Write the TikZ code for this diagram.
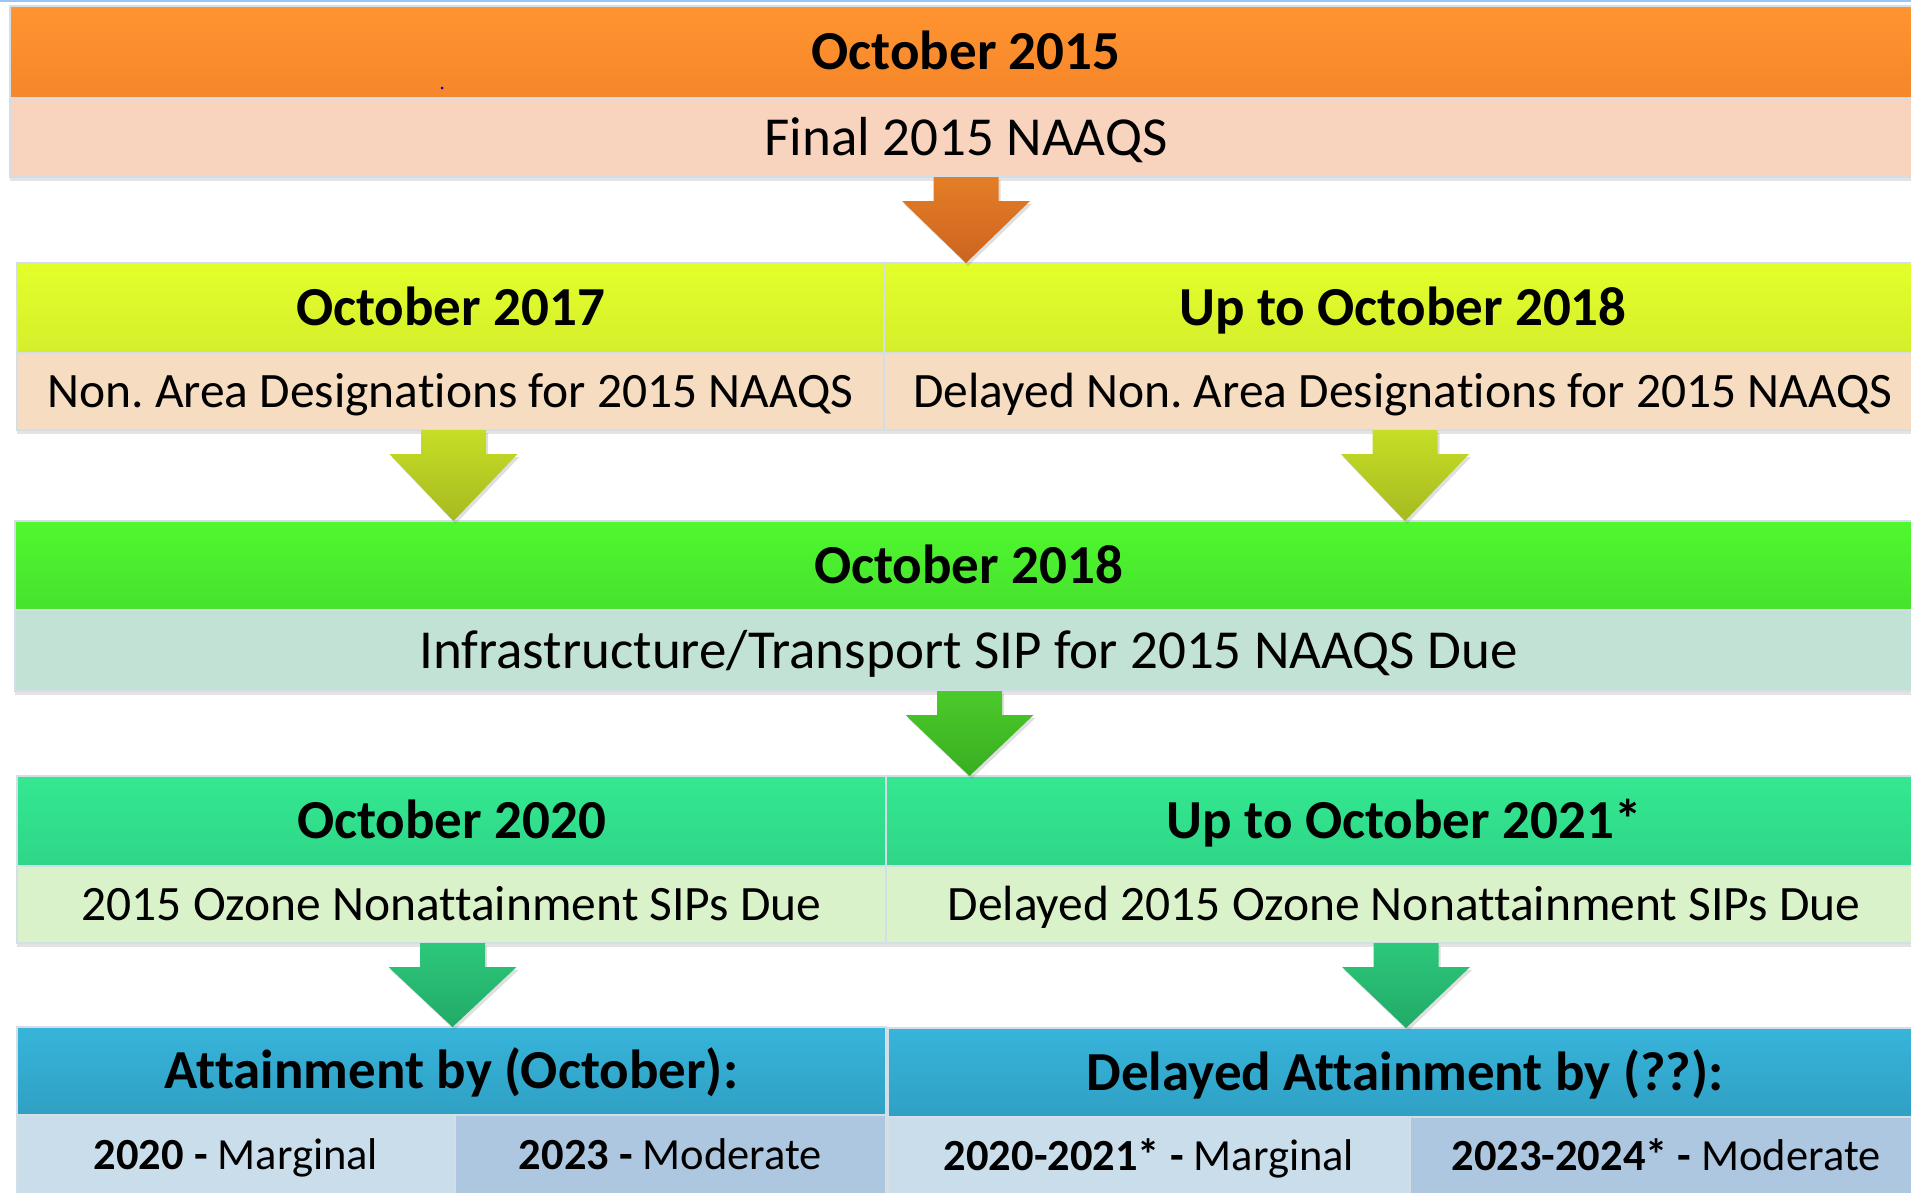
\documentclass[tikz,border=0pt]{standalone}
\usepackage{fontspec}
\setmainfont[Ligatures=NoCommon]{Carlito}
\usetikzlibrary{shadows,calc}
\definecolor{orangeT}{HTML}{FF9430}
\definecolor{orangeB}{HTML}{F6862A}
\definecolor{peachA}{HTML}{F8D4BF}
\definecolor{yellowT}{HTML}{E3FF2A}
\definecolor{yellowB}{HTML}{D5EE2C}
\definecolor{peachB}{HTML}{F6DCC0}
\definecolor{greenT}{HTML}{50F82E}
\definecolor{greenB}{HTML}{46E22E}
\definecolor{greenS}{HTML}{C3E2D6}
\definecolor{tealT}{HTML}{34E890}
\definecolor{tealB}{HTML}{2ED688}
\definecolor{tealS}{HTML}{DAF2CA}
\definecolor{blueT}{HTML}{38B4DA}
\definecolor{blueB}{HTML}{2FA0C4}
\definecolor{blueS}{HTML}{C9DDEB}
\definecolor{blueS2}{HTML}{ADC7E0}
\definecolor{cellline}{HTML}{D3DEE6}
\definecolor{arOT}{HTML}{E47E26}
\definecolor{arOB}{HTML}{CC6420}
\definecolor{arYT}{HTML}{C6DE26}
\definecolor{arYB}{HTML}{A6BA20}
\definecolor{arGT}{HTML}{4CCA2A}
\definecolor{arGB}{HTML}{38AE22}
\definecolor{arTT}{HTML}{2CC87A}
\definecolor{arTB}{HTML}{22AA68}
\definecolor{topline}{HTML}{9DC3F5}
\newcommand{\flowarrow}[4]{%
  \path[drop shadow={shadow xshift=2pt,shadow yshift=-3pt,opacity=0.25},
        top color=#3, bottom color=#4]
    ($(#1)+(-32.5,0)$) -- ($(#1)+(32.5,0)$) -- ($(#1)+(32.5,24)$) --
    ($(#1)+(64,24)$) -- (#2) -- ($(#1)+(-64,24)$) -- ($(#1)+(-32.5,24)$) -- cycle;}
\begin{document}
\frenchspacing
\begin{tikzpicture}[x=1pt,y=-1pt,
  cell/.style={rectangle, inner sep=0pt, outer sep=0pt, draw=cellline, line width=1.2pt,
    anchor=north west, align=center, text=black},
  hdr/.style={cell, font=\fontsize{55}{60}\selectfont\bfseries, text height=35pt, text depth=0pt},
  subtxt/.style={cell, font=\fontsize{55}{60}\selectfont, text height=35pt, text depth=0pt},
  subhalf/.style={cell, font=\fontsize{49.5}{54}\selectfont, text height=32pt, text depth=0pt},
  subsm/.style={cell, font=\fontsize{44.5}{50}\selectfont, text height=28.7pt, text depth=0pt},
  shad/.style={drop shadow={shadow xshift=0pt,shadow yshift=-4pt,opacity=0.22}}]
\useasboundingbox (0,0) rectangle (1911,1192);
\clip (0,0) rectangle (1911,1192);
\fill[white] (0,0) rectangle (1911,1192);
\draw[topline, line width=2pt] (0,1) -- (1911,1);
% row 1
\node[hdr, top color=orangeT, bottom color=orangeB, minimum width=1912pt, minimum height=92pt] (o1h) at (10,6) {October 2015};
\node[subtxt, shad, fill=peachA, minimum width=1912pt, minimum height=79pt] (o1s) at (10,98) {Final 2015 NAAQS};
\fill[blue!70!black] (442,88) circle (1.5);
% row 2
\node[hdr, top color=yellowT, bottom color=yellowB, minimum width=867pt, minimum height=90pt] (y1h) at (17,263) {October 2017};
\node[hdr, top color=yellowT, bottom color=yellowB, minimum width=1038pt, minimum height=90pt] (y2h) at (884,263) {Up to October 2018};
\node[subhalf, shad, fill=peachB, minimum width=867pt, minimum height=77pt] (y1s) at (17,353) {Non. Area Designations for 2015 NAAQS};
\node[subhalf, shad, fill=peachB, minimum width=1038pt, minimum height=77pt] (y2s) at (884,353) {Delayed Non. Area Designations for 2015 NAAQS};
% row 3
\node[hdr, top color=greenT, bottom color=greenB, minimum width=1907pt, minimum height=89pt] (gh) at (15,521) {October 2018};
\node[subtxt, shad, fill=greenS, minimum width=1907pt, minimum height=81pt] (gs) at (15,610) {Infrastructure/Transport SIP for 2015 NAAQS Due};
% row 4
\node[hdr, top color=tealT, bottom color=tealB, minimum width=869pt, minimum height=90pt] (t1h) at (17,776) {October 2020};
\node[hdr, top color=tealT, bottom color=tealB, minimum width=1036pt, minimum height=90pt] (t2h) at (886,776) {Up to October 2021*};
\node[subhalf, shad, fill=tealS, minimum width=869pt, minimum height=77pt] (t1s) at (17,866) {2015 Ozone Nonattainment SIPs Due};
\node[subhalf, shad, fill=tealS, minimum width=1036pt, minimum height=77pt] (t2s) at (886,866) {Delayed 2015 Ozone Nonattainment SIPs Due};
% row 5
\node[hdr, top color=blueT, bottom color=blueB, minimum width=869pt, minimum height=88pt] (b1h) at (17,1027) {Attainment by (October):};
\node[hdr, top color=blueT, bottom color=blueB, minimum width=1034pt, minimum height=89pt] (b2h) at (888,1028) {Delayed Attainment by (??):};
\node[subsm, fill=blueS, minimum width=438pt, minimum height=80pt] (b1a) at (17,1115) {\textbf{2020 -} Marginal};
\node[subsm, fill=blueS2, minimum width=431pt, minimum height=80pt] (b1b) at (455,1115) {\textbf{2023 -} Moderate};
\node[subsm, fill=blueS, minimum width=522pt, minimum height=78pt] (b2a) at (888,1117) {\textbf{2020-2021* -} Marginal};
\node[subsm, fill=blueS2, minimum width=512pt, minimum height=78pt] (b2b) at (1410,1117) {\textbf{2023-2024* -} Moderate};
% arrows
\coordinate (a0) at (o1s.south);
\coordinate (a1) at ($(y1s.south)+(3,0)$);
\coordinate (a2) at ($(y2s.south)+(2,0)$);
\coordinate (a3) at ($(gs.south)+(1,0)$);
\coordinate (a4) at ($(t1s.south)+(1,0)$);
\coordinate (a5) at ($(t2s.south)+(2,0)$);
\flowarrow{a0}{a0 |- y2h.north}{arOT}{arOB}
\flowarrow{a1}{a1 |- gh.north}{arYT}{arYB}
\flowarrow{a2}{a2 |- gh.north}{arYT}{arYB}
\flowarrow{a3}{a3 |- t1h.north}{arGT}{arGB}
\flowarrow{a4}{a4 |- b1h.north}{arTT}{arTB}
\flowarrow{a5}{a5 |- b2h.north}{arTT}{arTB}
\end{tikzpicture}
\end{document}
